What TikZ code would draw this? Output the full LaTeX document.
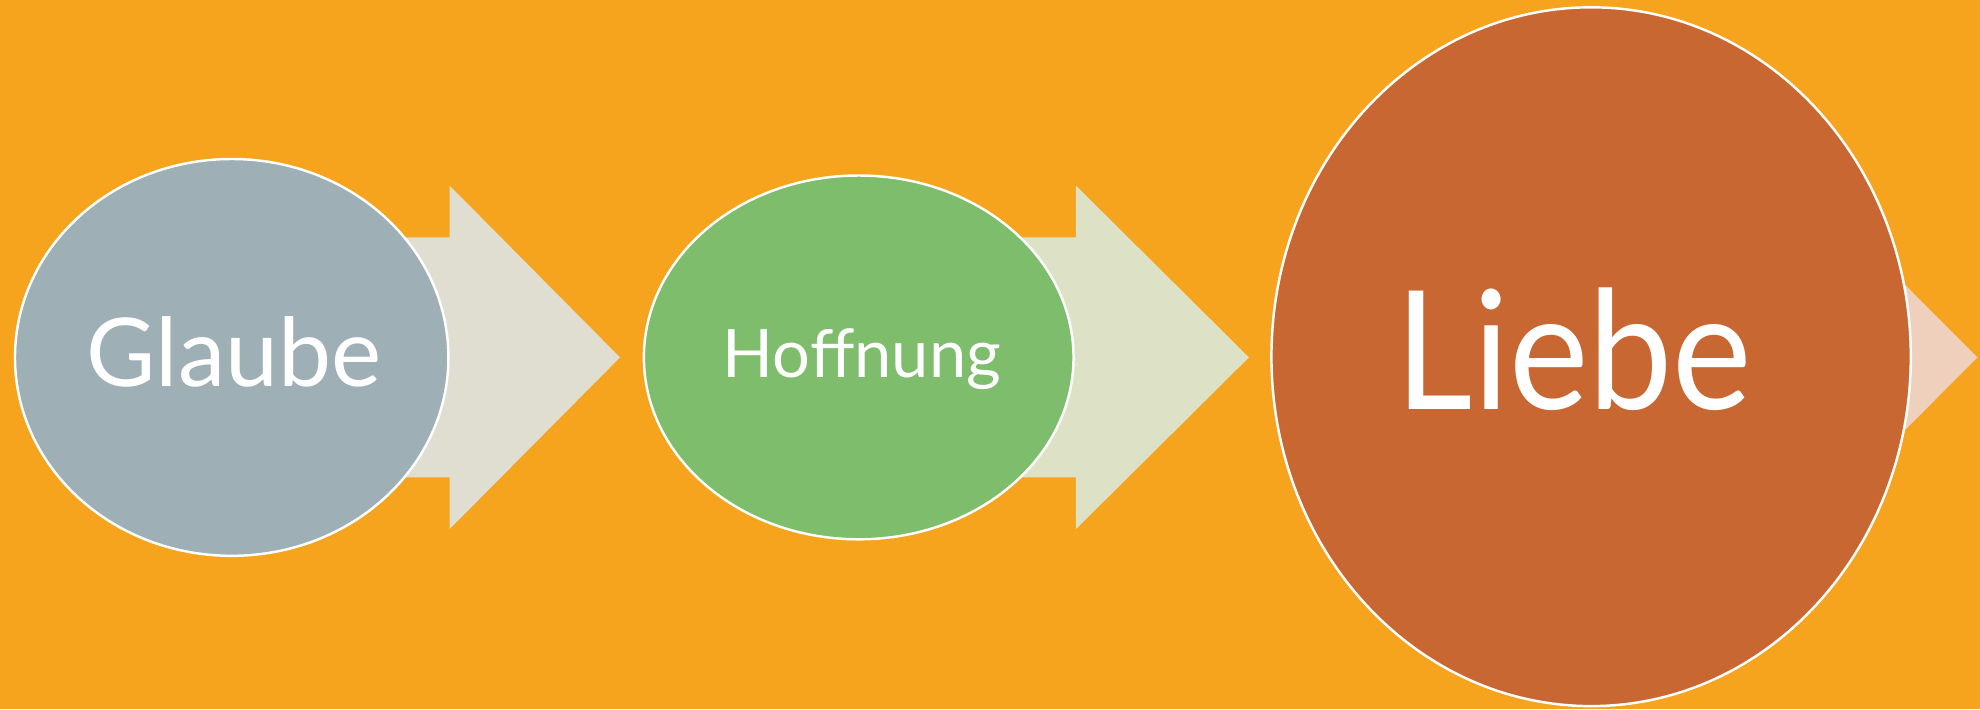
\documentclass[tikz,border=0pt]{standalone}
\usepackage{fontspec}
\setmainfont{Lato}
\usetikzlibrary{shapes.geometric}
\definecolor{bgor}{HTML}{F6A31D}
\definecolor{gfill}{HTML}{9EB0B5}
\definecolor{garr}{HTML}{E0DDD1}
\definecolor{hfill}{HTML}{7DBD6B}
\definecolor{harr}{HTML}{DDE2C6}
\definecolor{lfill}{HTML}{C86732}
\definecolor{larr}{HTML}{EED0BD}
\tikzset{
  blob/.style={ellipse, draw=white, line width=0.7pt, inner sep=0pt},
  lbl/.style={text=white, anchor=base, inner sep=0pt},
}
\begin{document}
\begin{tikzpicture}[x=0.01cm,y=-0.01cm]
\useasboundingbox (0,0) rectangle (1980,709);
\fill[bgor] (0,0) rectangle (1980,709);
% arrow 1
\fill[garr] (231.7,237.4) -- (449.6,237.4) -- (449.6,185.6) -- (620,357.4) -- (449.6,529.1) -- (449.6,477.3) -- (231.7,477.3) -- cycle;
\node[blob, fill=gfill, minimum width=4.332cm, minimum height=3.966cm] (g) at (231.7,357.4) {};
% arrow 2
\fill[harr] (858.7,237.4) -- (1075.9,237.4) -- (1075.9,185.6) -- (1248.9,357.4) -- (1075.9,529.1) -- (1075.9,477.3) -- (858.7,477.3) -- cycle;
\node[blob, fill=hfill, minimum width=4.294cm, minimum height=3.636cm] (h) at (858.7,357.4) {};
% arrow 3
\fill[larr] (1591,237.4) -- (1806,237.4) -- (1806,185.6) -- (1977.5,357.4) -- (1806,529.1) -- (1806,477.3) -- (1591,477.3) -- cycle;
\node[blob, fill=lfill, minimum width=6.39cm, minimum height=6.984cm] (l) at (1591.1,356.7) {};
% labels
\node[lbl, font=\fontsize{27}{30}\selectfont] (gt) at (234,386) {Glaube};
\node[lbl, font=\fontsize{19}{22}\selectfont] (ht) at (862,377.6) {Hoffnung};
\node[lbl, font=\fontsize{47}{52}\selectfont, xscale=0.91] (lt) at (1574,409) {Liebe};
\end{tikzpicture}
\end{document}
